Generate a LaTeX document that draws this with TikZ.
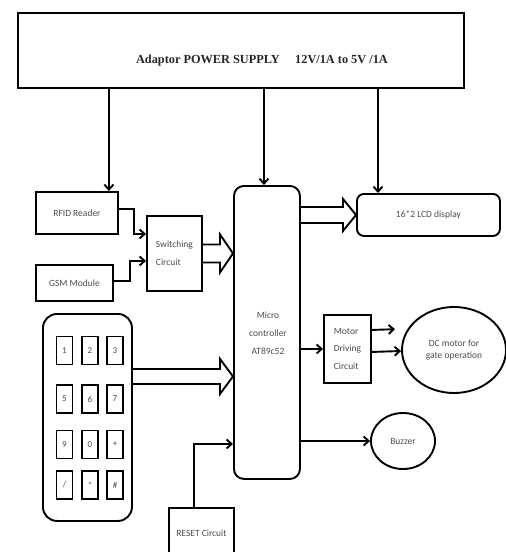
\documentclass[tikz,border=0pt]{standalone}
\usepackage{fontspec}
\setmainfont{Carlito}
\newfontfamily\psfont{Liberation Serif}
\usetikzlibrary{arrows.meta,calc,shapes.geometric}
\newcommand\fatarrow[4]{%
  \draw[line width=1.9pt, line join=miter] let \p1=(#1), \p2=(#2) in
    (\x1,\y1+#3) -- (\x2-13pt,\y1+#3) -- (\x2-13pt,\y1+#4) -- (\x2,\y1)
    -- (\x2-13pt,\y1-#4) -- (\x2-13pt,\y1-#3) -- (\x1,\y1-#3);}
\begin{document}
\begin{tikzpicture}[x=1pt,y=-1pt,
  blk/.style={draw, line width=1.9pt, anchor=north west, inner sep=2pt,
    font=\fontsize{9.5}{12}\selectfont, text=black!70},
  rblk/.style={blk, rounded corners=7pt},
  keybox/.style={draw, line width=1.7pt, minimum width=16pt, minimum height=28pt,
    inner sep=0pt, font=\fontsize{9}{10}\selectfont, text=black!70},
  ell/.style={draw, ellipse, line width=1.9pt, inner sep=0pt,
    font=\fontsize{9.5}{12}\selectfont, text=black!70, align=center},
  arr/.style={-{Straight Barb[length=5pt,width=9pt]}, line width=1.9pt}]
\useasboundingbox (0,0) rectangle (506,552);
\clip (0,0) rectangle (506,552);

% power supply
\node[blk, minimum width=446pt, minimum height=75pt,
  label={[xshift=21pt,yshift=-10pt,font=\psfont\bfseries\fontsize{12.3}{14}\selectfont,text=black!85]center:Adaptor POWER SUPPLY\quad\ 12V/1A to 5V /1A}]
  (ps) at (17,12) {};

% left blocks
\node[blk, minimum width=82pt, minimum height=42pt] (rfid) at (35,191) {RFID Reader};
\node[blk, minimum width=77pt, minimum height=36pt] (gsm) at (35,264) {GSM Module\hspace{10pt}};
\node[blk, minimum width=55pt, minimum height=75pt, align=left,
  font=\fontsize{9.5}{18}\selectfont] (sw) at (146,215) {Switching\\Circuit\hspace{8pt}};

% microcontroller
\node[blk, rounded corners=10pt, minimum width=66pt, minimum height=293pt, align=center] (mcu) at (233,185) {};
\node[font=\fontsize{9.5}{18}\selectfont, text=black!70, align=center] (mcutext) at (268,333) {Micro\\controller\\AT89c52};

% right blocks
\node[rblk, minimum width=143pt, minimum height=42pt] (lcd) at (356,193) {16*2 LCD display};
\node[blk, minimum width=47pt, minimum height=68pt, align=left,
  font=\fontsize{9.5}{17.5}\selectfont] (md) at (323,314) {Motor\\Driving\\Circuit};
\node[ell, minimum width=104pt, minimum height=86pt] (motor) at (454,350) {DC motor for\\gate operation};
\node[ell, minimum width=64pt, minimum height=56pt] (buzzer) at (403,441) {Buzzer};

% keypad
\node[blk, rounded corners=14pt, minimum width=89pt, minimum height=207pt] (kp) at (42,313) {};
\node[keybox] (k1) at (64.5,350.5) {1};
\node[keybox] (k2) at (90,350.5) {2};
\node[keybox] (k3) at (115,350.5) {3};
\node[keybox] (k5) at (64.5,399) {5};
\node[keybox] (k6) at (90,399) {6};
\node[keybox] (k7) at (115,399) {7};
\node[keybox] (k9) at (64.5,444.5) {9};
\node[keybox] (k0) at (90,444.5) {0};
\node[keybox] (kplus) at (115,444.5) {+};
\node[keybox] (kslash) at (64.5,485) {/};
\node[keybox] (kstar) at (90,485) {*};
\node[keybox] (khash) at (115,485) {\#};

% reset
\node[blk, minimum width=65pt, minimum height=50pt] (reset) at (168,507) {RESET Circuit};

% power connectors
\coordinate (rfidin) at ($(rfid.north east)+(-10,0)$);
\coordinate (mcuin) at ($(mcu.north)+(-3,0)$);
\coordinate (lcdin) at ($(lcd.north west)+(22,0)$);
\draw[arr] (ps.south -| rfidin) -- (rfidin);
\draw[arr] (ps.south -| mcuin) -- (mcuin);
\draw[arr] (ps.south -| lcdin) -- (lcdin);

% thin connectors
\draw[arr] ($(rfid.east)+(0,-4)$) -- ++(15,0) |- ($(sw.west)+(0,-19.5)$);
\draw[arr] ($(gsm.east)+(0,-2)$) -- ++(16,0) |- ($(sw.west)+(0,7.5)$);
\draw[arr] (mcu.east |- md.west) -- (md.west);
\draw[arr, shorten >=6pt] ($(md.east)+(0,-19)$) -- ($(motor.west)+(0,-21)$);
\draw[arr] ($(md.east)+(0,3)$) -- ($(motor.west)+(0,1)$);
\draw[arr] (mcu.east |- buzzer.west) -- (buzzer.west);
\draw[arr] ($(reset.north)+(-7.5,0)$) |- ($(mcu.west)+(0,111.5)$);

% fat arrows
\fatarrow{sw.east}{mcu.west |- sw.east}{9pt}{19pt}
\fatarrow{mcu.east |- lcd.west}{lcd.west}{8pt}{16pt}
\fatarrow{$(kp.east)+(0,-41)$}{mcu.west |- {$(kp.east)+(0,-41)$}}{7.5pt}{17.5pt}
\end{tikzpicture}
\end{document}
